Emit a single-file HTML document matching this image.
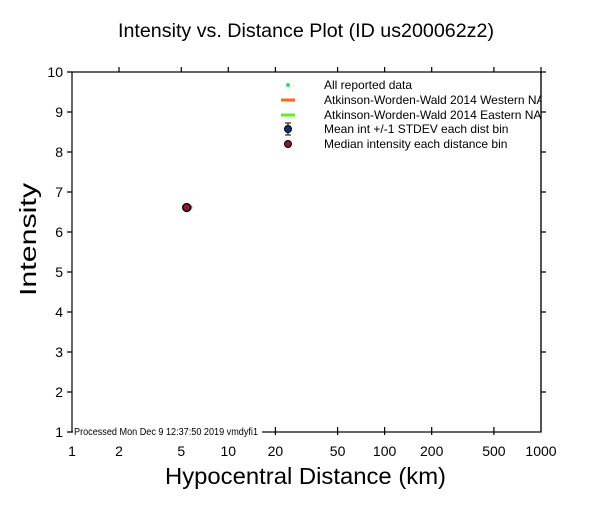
<!DOCTYPE html>
<html><head><meta charset="utf-8"><style>
body{margin:0;background:#fff}
svg text{font-family:"Liberation Sans",Arial,sans-serif}
</style></head><body>
<svg width="612" height="504" viewBox="0 0 612 504" xmlns="http://www.w3.org/2000/svg">
<rect width="612" height="504" fill="#fff"/>
<text x="118" y="37" font-size="19.5" textLength="376" lengthAdjust="spacingAndGlyphs">Intensity vs. Distance Plot (ID us200062z2)</text>
<g stroke="#000" stroke-width="1.2" fill="none">
<rect x="72" y="72" width="469" height="360"/>
<path d="M67 72H72M67 112H72M67 152H72M67 192H72M67 232H72M67 272H72M67 312H72M67 352H72M67 392H72M67 432H72"/>
<path d="M541 72H546M541 112H546M541 152H546M541 192H546M541 232H546M541 272H546M541 312H546M541 352H546M541 392H546"/>
<path d="M119 67V72M181.3 67V72M228.3 67V72M275.4 67V72M337.6 67V72M384.6 67V72M431.7 67V72M493.9 67V72M541 67V72"/>
<path d="M275.4 427V435M337.6 427V435M384.6 427V435M431.7 427V435M493.9 427V435"/>
</g>
<g font-size="14" text-anchor="end">
<text x="63" y="77">10</text><text x="63" y="117">9</text><text x="63" y="157">8</text><text x="63" y="197">7</text><text x="63" y="237">6</text><text x="63" y="277">5</text><text x="63" y="317">4</text><text x="63" y="357">3</text><text x="63" y="397">2</text><text x="63" y="437">1</text>
</g>
<g font-size="14" text-anchor="middle">
<text x="72" y="456">1</text><text x="119" y="456">2</text><text x="181.3" y="456">5</text><text x="228.3" y="456">10</text><text x="275.4" y="456">20</text><text x="337.6" y="456">50</text><text x="384.6" y="456">100</text><text x="431.7" y="456">200</text><text x="493.9" y="456">500</text><text x="541" y="456">1000</text>
</g>
<rect x="73" y="424" width="189" height="13" fill="#fff"/>
<text x="74" y="435" font-size="10" textLength="184" lengthAdjust="spacingAndGlyphs">Processed Mon Dec  9 12:37:50 2019 vmdyfi1</text>
<text x="165" y="484" font-size="23.5" textLength="281" lengthAdjust="spacingAndGlyphs">Hypocentral Distance (km)</text>
<text transform="translate(36,296) rotate(-90)" font-size="23.5" textLength="113" lengthAdjust="spacingAndGlyphs">Intensity</text>
<circle cx="190" cy="207.5" r="2.5" fill="#33dd66"/>
<circle cx="186.7" cy="207.5" r="4" fill="#8b1a2a" stroke="#000" stroke-width="1.3"/>
<circle cx="288" cy="85" r="2" fill="#33dd66"/>
<path d="M281 100H295" stroke="#ff6622" stroke-width="3"/>
<path d="M281 115H295" stroke="#66ee22" stroke-width="3"/>
<path d="M288 123V135M285 123H291M285 135H291" stroke="#000" stroke-width="1"/>
<circle cx="288" cy="129" r="3.5" fill="#1a2a7a" stroke="#000" stroke-width="1"/>
<circle cx="288" cy="144" r="3.5" fill="#8b1a2a" stroke="#000" stroke-width="1"/>
<svg x="0" y="0" width="541" height="504" overflow="hidden">
<g font-size="12">
<text x="324" y="89">All reported data</text>
<text x="324" y="104">Atkinson-Worden-Wald 2014 Western NA</text>
<text x="324" y="119">Atkinson-Worden-Wald 2014 Eastern NA</text>
<text x="324" y="133">Mean int +/-1 STDEV each dist bin</text>
<text x="324" y="148">Median intensity each distance bin</text>
</g>
</svg>
<path d="M541 72V432" stroke="#000" stroke-width="1.2"/>
</svg>
</body></html>
